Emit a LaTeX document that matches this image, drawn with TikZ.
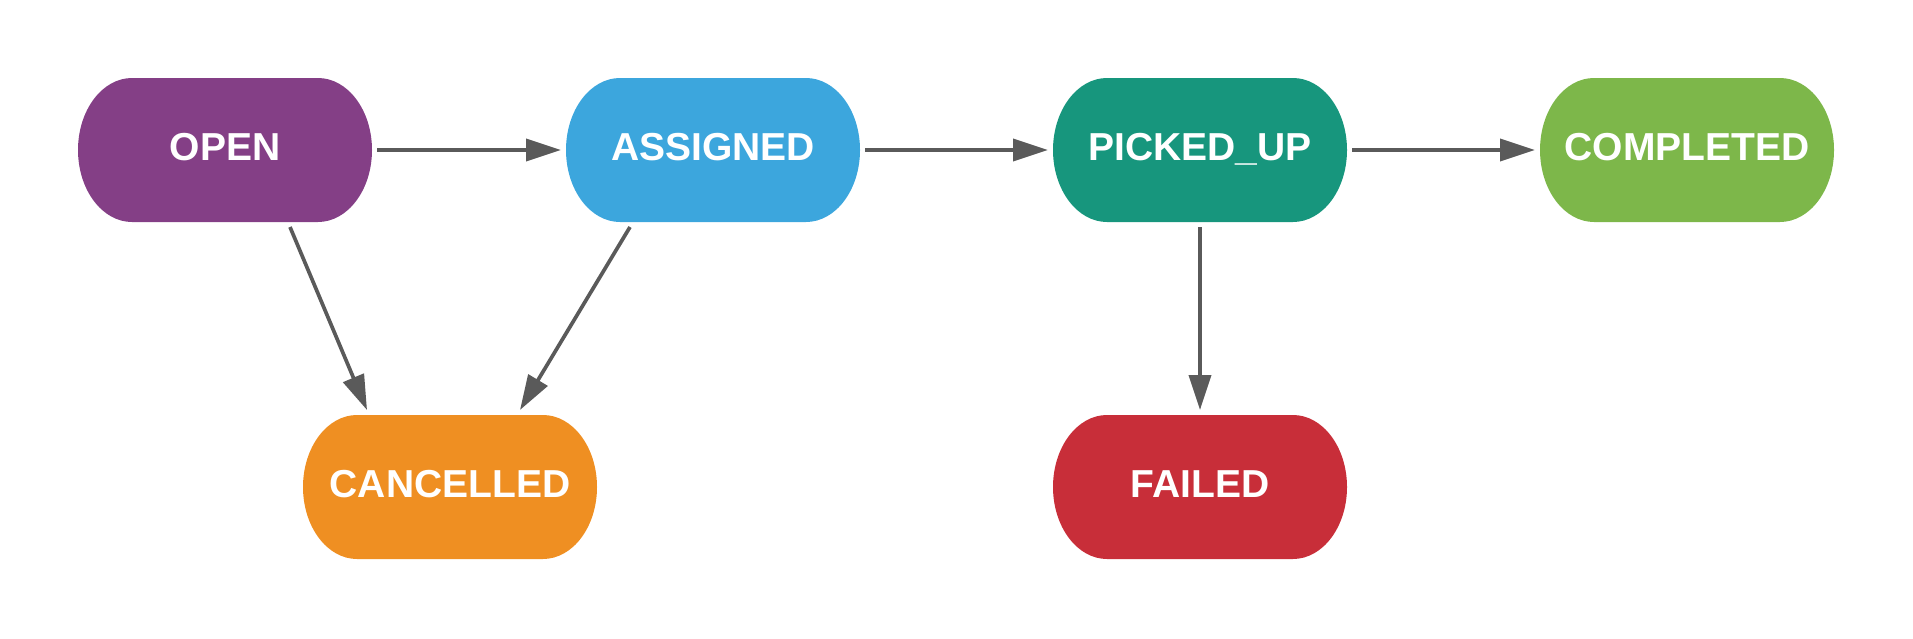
\documentclass[tikz,border=0pt]{standalone}
\usepackage{fontspec}
\setmainfont{Liberation Sans}
\usetikzlibrary{arrows.meta}
\definecolor{openC}{HTML}{843F86}
\definecolor{assignedC}{HTML}{3CA6DD}
\definecolor{pickedC}{HTML}{17967D}
\definecolor{completedC}{HTML}{7DB74A}
\definecolor{cancelledC}{HTML}{EF8F22}
\definecolor{failedC}{HTML}{C82E39}
\definecolor{edgeC}{HTML}{5A5A5A}
% stadium with flat ends: name, x, y, colour, label
\newcommand{\stateNode}[5]{%
  \fill[#4] (#2-93,#3-72) -- (#2+93,#3-72)
    arc[start angle=-90, end angle=90, x radius=54, y radius=72]
    -- (#2-93,#3+72)
    arc[start angle=90, end angle=270, x radius=54, y radius=72] -- cycle;
  \node[state text] (#1) at (#2,#3) {#5};
}

\begin{document}
\begin{tikzpicture}[x=1pt, y=-1pt]
  \tikzset{state text/.style={minimum width=294pt, minimum height=144pt,
      inner sep=0pt, outer sep=5pt, text height=29pt, text depth=8pt,
      text=white, font=\bfseries\fontsize{39}{46}\selectfont}}
  \tikzset{edge/.style={draw=edgeC, line width=3.7pt,
      -{Triangle[length=35pt, width=22pt]}}}
  \useasboundingbox (0,0) rectangle (1913,638);
  \stateNode{S-open}{225}{150}{openC}{OPEN}
  \stateNode{S-assigned}{713}{150}{assignedC}{ASSIGNED}
  \stateNode{S-picked}{1200}{150}{pickedC}{PICKED\_UP}
  \stateNode{S-completed}{1687}{150}{completedC}{COMPLETED}
  \stateNode{S-cancelled}{450}{487}{cancelledC}{CANCELLED}
  \stateNode{S-failed}{1200}{487}{failedC}{FAILED}
  \draw[edge] (S-open) -- (S-assigned);
  \draw[edge] (S-assigned) -- (S-picked);
  \draw[edge] (S-picked) -- (S-completed);
  \draw[edge] (S-picked) -- (S-failed);
  \draw[edge] ([xshift=65pt]S-open.south) -- ([xshift=-83pt]S-cancelled.north);
  \draw[edge] ([xshift=-83pt]S-assigned.south) -- ([xshift=70pt]S-cancelled.north);
\end{tikzpicture}
\end{document}
